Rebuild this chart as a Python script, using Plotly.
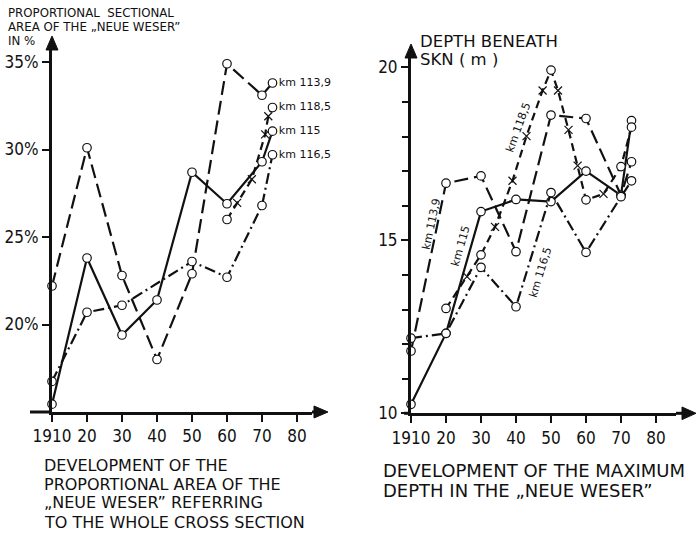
import plotly.graph_objects as go

W, H = 697, 539

# ---- left panel: proportional sectional area of the "Neue Weser" (%) ----
area_series = ["km 113,9", "km 118,5", "km 115", "km 116,5"]
area_years = {
    "km 113,9": [1910, 1920, 1930, 1940, 1950, 1960, 1970, 1973],
    "km 118,5": [1960, 1962.9, 1967.1, 1970.9, 1971.8, 1973],
    "km 115":   [1910, 1920, 1930, 1940, 1950, 1960, 1970, 1973],
    "km 116,5": [1910, 1920, 1930, 1950, 1960, 1970, 1973],
}
area_values = {
    "km 113,9": [22.2, 30.1, 22.8, 18.0, 22.9, 34.9, 33.1, 33.8],
    "km 118,5": [26.0, 26.95, 28.3, 30.86, 31.9, 32.4],
    "km 115":   [15.45, 23.8, 19.4, 21.4, 28.7, 26.9, 29.3, 31.05],
    "km 116,5": [16.75, 20.7, 21.1, 23.6, 22.7, 26.8, 29.7],
}
area_ticks = [20, 25, 30, 35]
area_ticktext = ["20%", "25%", "30%", "35%"]

# ---- right panel: maximum depth beneath SKN (m) ----
depth_series = ["km 113,9", "km 115", "km 118,5", "km 116,5"]
depth_years = {
    "km 113,9": [1910, 1920, 1930, 1940, 1950, 1960, 1970, 1973],
    "km 115":   [1910, 1920, 1930, 1940, 1950, 1960, 1970, 1973],
    "km 118,5": [1920, 1926, 1930, 1934, 1939, 1943, 1947.6, 1950, 1952,
                 1955, 1957.6, 1960, 1965, 1970, 1973],
    "km 116,5": [1910, 1920, 1930, 1940, 1950, 1960, 1970, 1973],
}
depth_values = {
    "km 113,9": [11.8, 16.65, 16.86, 14.67, 18.62, 18.52, 16.3, 17.27],
    "km 115":   [10.26, 12.31, 15.83, 16.18, 16.12, 17.0, 16.3, 18.46],
    "km 118,5": [13.03, 13.95, 14.58, 15.39, 16.72, 18.01, 19.33, 19.92, 19.33,
                 18.19, 17.16, 16.17, 16.34, 17.13, 18.27],
    "km 116,5": [12.17, 12.31, 14.22, 13.08, 16.38, 14.65, 16.26, 16.72],
}
depth_ticks = [10, 15, 20]

decade_ticks = [1910, 1920, 1930, 1940, 1950, 1960, 1970, 1980]
decade_text = ["1910", "20", "30", "40", "50", "60", "70", "80"]

# rotated in-line labels on the depth panel: (year, depth, angle)
depth_label_pos = {
    "km 113,9": (1915.7, 15.47, -78),
    "km 115":   (1924.3, 14.84, -74),
    "km 118,5": (1940.6, 18.27, -70),
    "km 116,5": (1946.9, 14.08, -73),
}

left_caption = ["DEVELOPMENT OF THE", "PROPORTIONAL AREA OF THE",
                "„NEUE WESER” REFERRING", "TO THE WHOLE CROSS SECTION"]
right_caption = ["DEVELOPMENT OF THE MAXIMUM", "DEPTH IN THE „NEUE WESER”"]

dash_style = {
    "km 113,9": "14px,6px",
    "km 115": "solid",
    "km 116,5": "11px,4px,2px,4px",
    "km 118,5": "8px,5px",
}

INK = "#111111"
TICK_FONT = "Liberation Sans Narrow, DejaVu Sans Condensed, Arial Narrow, sans-serif"
TEXT_FONT = "DejaVu Sans, Liberation Sans, sans-serif"


def px_x(p):
    return p / W


def px_y(p):
    return 1 - p / H


def marker_style(years):
    last = years[-1]
    circ = [(y % 10 == 0) or (y == last) for y in years]
    return dict(
        symbol=["circle" if c else "x-thin" for c in circ],
        color=["#ffffff" if c else INK for c in circ],
        size=[8.5 if c else 8 for c in circ],
        opacity=1,
        line=dict(color=INK, width=1.2),
    )


fig = go.Figure()

for name in area_series:
    yrs, vals = area_years[name], area_values[name]
    fig.add_trace(go.Scatter(
        x=yrs, y=vals, xaxis="x", yaxis="y",
        mode="lines+markers+text",
        line=dict(color=INK, width=2.2, dash=dash_style[name]),
        marker=marker_style(yrs),
        text=[""] * (len(yrs) - 1) + [name],
        textposition="middle right",
        textfont=dict(family=TEXT_FONT, size=11, color=INK),
        cliponaxis=False, showlegend=False, name=name,
    ))

for name in depth_series:
    yrs, vals = depth_years[name], depth_values[name]
    fig.add_trace(go.Scatter(
        x=yrs, y=vals, xaxis="x2", yaxis="y2",
        mode="lines+markers",
        line=dict(color=INK, width=2.2, dash=dash_style[name]),
        marker=marker_style(yrs),
        cliponaxis=False, showlegend=False, name=name,
    ))

for name, (yr, dep, ang) in depth_label_pos.items():
    fig.add_annotation(x=yr, y=dep, xref="x2", yref="y2", text=name,
                       textangle=ang, showarrow=False,
                       font=dict(family=TEXT_FONT, size=11, color=INK))

axis_common = dict(showgrid=False, zeroline=False, showline=True,
                   linecolor=INK, linewidth=3, ticks="outside",
                   tickcolor=INK, tickwidth=2, ticklen=7,
                   tickfont=dict(family=TICK_FONT, size=17, color=INK),
                   automargin=False, fixedrange=True)

fig.update_layout(
    width=W, height=H,
    margin=dict(l=0, r=0, t=0, b=0, pad=0, autoexpand=False),
    paper_bgcolor="white", plot_bgcolor="white",
    xaxis=dict(domain=[px_x(52), px_x(312)], range=[1910, 1910 + 260 / 3.5],
               anchor="y", tickvals=decade_ticks, ticktext=decade_text,
               **axis_common),
    yaxis=dict(domain=[px_y(412), px_y(50)], range=[15, 15 + 362 / 17.5],
               anchor="x", tickvals=area_ticks, ticktext=area_ticktext,
               **axis_common),
    xaxis2=dict(domain=[px_x(411), px_x(676)], range=[1910, 1910 + 265 / 3.5],
                anchor="y2", tickvals=decade_ticks, ticktext=decade_text,
                **axis_common),
    yaxis2=dict(domain=[px_y(413.3), px_y(58)], range=[10, 10 + 355.3 / 34.6],
                anchor="x2", tickvals=depth_ticks,
                minor=dict(dtick=1, ticks="outside", ticklen=6,
                           tickwidth=2, tickcolor=INK),
                **axis_common),
)


def line_px(x0, y0, x1, y1, w=3):
    fig.add_shape(type="line", xref="paper", yref="paper",
                  x0=px_x(x0), y0=px_y(y0), x1=px_x(x1), y1=px_y(y1),
                  line=dict(color=INK, width=w))


def head_px(pts):
    path = "M " + " L ".join(f"{px_x(a):.5f},{px_y(b):.5f}" for a, b in pts) + " Z"
    fig.add_shape(type="path", xref="paper", yref="paper", path=path,
                  fillcolor=INK, line=dict(color=INK, width=1))


def text_px(x, y, txt, size):
    fig.add_annotation(xref="paper", yref="paper", x=px_x(x), y=px_y(y),
                       xanchor="left", yanchor="middle", align="left",
                       showarrow=False, text=txt,
                       font=dict(family=TEXT_FONT, size=size, color=INK))


# axis extensions and arrowheads
line_px(30, 412, 52, 412)
line_px(312, 412, 316, 412)
head_px([(314, 406), (328, 412), (314, 418)])
line_px(52, 50, 52, 46)
head_px([(46, 50), (52, 36), (58, 50)])

line_px(404, 413.3, 411, 413.3)
line_px(676, 413.3, 682, 413.3)
head_px([(682, 407), (696, 413.3), (682, 419.6)])
line_px(411, 58, 411, 56)
head_px([(405, 58), (411, 44), (417, 58)])

# axis titles
for i, txt in enumerate(["PROPORTIONAL  SECTIONAL", "AREA OF THE „NEUE WESER”", "IN %"]):
    text_px(6, 13 + 14 * i, txt, 11.8)
for i, txt in enumerate(["DEPTH BENEATH", "SKN ( m )"]):
    text_px(418, 41 + 19 * i, txt, 16.5)

# panel captions
for i, txt in enumerate(left_caption):
    text_px(42, 465 + 19 * i, txt, 16)
for i, txt in enumerate(right_caption):
    text_px(381, 470 + 20 * i, txt, 18)

fig.write_html("out.html")
